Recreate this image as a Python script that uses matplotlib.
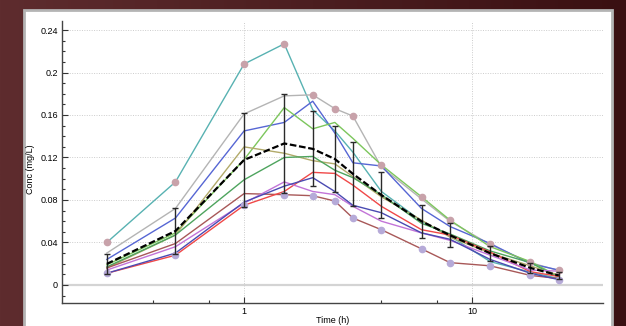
import matplotlib
matplotlib.use("Agg")
import matplotlib.pyplot as plt
import matplotlib.patches as mpatches
import numpy as np

# sampling times (h)
times = [0.25, 0.5, 1, 1.5, 2, 2.5, 3, 4, 6, 8, 12, 18, 24]

# individual concentration profiles (mg/L)
subj_teal   = [0.040, 0.097, 0.208, 0.227, 0.165, 0.145, 0.125, 0.088, 0.060, 0.046, 0.022, 0.012, 0.006]
subj_gray   = [0.030, 0.072, 0.161, 0.178, 0.179, 0.166, 0.159, 0.111, 0.081, 0.060, 0.038, 0.021, 0.0135]
subj_blue   = [0.024, 0.063, 0.145, 0.153, 0.173, 0.143, 0.115, 0.112, 0.072, 0.055, 0.039, 0.020, 0.014]
subj_lgreen = [0.019, 0.049, 0.118, 0.167, 0.147, 0.153, 0.138, 0.113, 0.083, 0.061, 0.036, 0.022, 0.008]
subj_olive  = [0.016, 0.047, 0.130, 0.124, 0.117, 0.114, 0.102, 0.083, 0.061, 0.045, 0.030, 0.018, 0.009]
subj_dgreen = [0.017, 0.047, 0.099, 0.120, 0.121, 0.108, 0.101, 0.085, 0.058, 0.048, 0.032, 0.021, 0.007]
subj_brown  = [0.016, 0.039, 0.086, 0.085, 0.084, 0.079, 0.063, 0.052, 0.034, 0.021, 0.018, 0.009, 0.006]
subj_red    = [0.011, 0.028, 0.075, 0.088, 0.106, 0.105, 0.094, 0.074, 0.052, 0.047, 0.031, 0.0125, 0.008]
subj_purple = [0.014, 0.036, 0.077, 0.097, 0.088, 0.085, 0.074, 0.060, 0.049, 0.042, 0.028, 0.014, 0.013]
subj_dblue  = [0.011, 0.030, 0.078, 0.093, 0.101, 0.088, 0.075, 0.068, 0.049, 0.043, 0.024, 0.011, 0.005]

subjects = [
    (subj_teal,   "#58b2b2"),
    (subj_gray,   "#b4b4b4"),
    (subj_blue,   "#5666d4"),
    (subj_lgreen, "#7cc65c"),
    (subj_olive,  "#b2aa6a"),
    (subj_dgreen, "#4ea45e"),
    (subj_brown,  "#a85858"),
    (subj_red,    "#f04848"),
    (subj_purple, "#c274d8"),
    (subj_dblue,  "#4a4ab2"),
]

x_ticks = [1, 10]
x_tick_labels = ["1", "10"]
x_minor = [0.4, 0.7, 4, 7]
y_ticks = [0, 0.04, 0.08, 0.12, 0.16, 0.2, 0.24]
y_tick_labels = ["0", "0.04", "0.08", "0.12", "0.16", "0.2", "0.24"]

FONT = ["Liberation Sans Narrow", "Liberation Sans", "DejaVu Sans"]
W, H = 626, 326


def main():
    fig = plt.figure(figsize=(W / 100, H / 100), dpi=100)

    # dark red gradient background
    bg = fig.add_axes([0, 0, 1, 1], zorder=-3)
    grad = np.linspace(0, 1, 256)[None, :]
    cmap = matplotlib.colors.LinearSegmentedColormap.from_list("bg", ["#5e2c2e", "#3a1012"])
    bg.imshow(grad, aspect="auto", cmap=cmap, extent=[0, 1, 0, 1])
    bg.axis("off")

    # white panel
    panel = mpatches.Rectangle((24 / W, -0.05), (612 - 24) / W, 1.05 - 10 / H,
                               transform=fig.transFigure, facecolor="white",
                               edgecolor="#b4b4b4", linewidth=2, zorder=-2)
    fig.add_artist(panel)

    ax = fig.add_axes([62 / W, 1 - 303 / H, (603 - 62) / W, (303 - 21) / H], zorder=0)
    ax.patch.set_alpha(0)

    for vals, col in subjects:
        ax.plot(times, vals, color=col, linewidth=1.0, zorder=3)

    data = np.array([s for s, _ in subjects])
    ax.plot(times, data.max(axis=0), "o", color="#c8a2aa", markersize=4.5, zorder=4)
    ax.plot(times, data.min(axis=0), "o", color="#b6aad8", markersize=4.5, zorder=4)

    mean = data.mean(axis=0)
    sd = data.std(axis=0, ddof=1)
    ax.errorbar(times, mean, yerr=sd, fmt="none", ecolor="#2a2a2a",
                elinewidth=1, capsize=2.5, capthick=1, zorder=5)
    ax.plot(times, mean, color="black", linewidth=1.6, linestyle=(0, (3, 1.2)), zorder=6)

    ax.set_xscale("log")
    ax.set_xlim(0.159, 37.5)
    ax.set_ylim(-0.017, 0.2485)

    ax.axhline(0, color="#d4d4d4", linewidth=1.6, zorder=1)
    for y in y_ticks[1:]:
        ax.axhline(y, color="#cccccc", linewidth=0.7, linestyle=(0, (1, 1.5)), zorder=1)
    for x in x_ticks:
        ax.axvline(x, color="#cccccc", linewidth=0.7, linestyle=(0, (1, 1.5)), zorder=1)

    ax.set_xticks(x_ticks)
    ax.set_xticklabels(x_tick_labels, fontsize=6.5, family=FONT)
    ax.set_xticks(x_minor, minor=True)
    ax.xaxis.set_minor_formatter(matplotlib.ticker.NullFormatter())
    ax.set_yticks(y_ticks)
    ax.set_yticklabels(y_tick_labels, fontsize=6.5, family=FONT)
    ax.set_yticks(np.arange(-0.01, 0.245, 0.01), minor=True)
    ax.tick_params(which="both", direction="in", color="#333333", width=0.8)
    ax.tick_params(which="major", length=4, pad=3)
    ax.tick_params(which="minor", length=2)

    for s in ["top", "right"]:
        ax.spines[s].set_visible(False)
    for s in ["left", "bottom"]:
        ax.spines[s].set_color("#444444")
        ax.spines[s].set_linewidth(1.0)

    ax.set_xlabel("Time (h)", fontsize=6.5, family=FONT)
    ax.xaxis.set_label_coords(0.5, -0.045)
    ax.set_ylabel("Conc (mg/L)", fontsize=6.5, family=FONT)
    ax.yaxis.set_label_coords(-0.05, 0.475)

    fig.savefig("out.png", dpi=100)


if __name__ == "__main__":
    main()
